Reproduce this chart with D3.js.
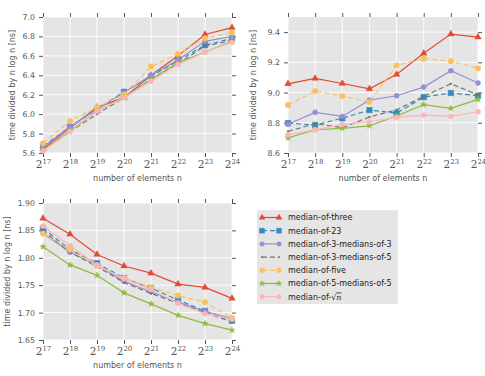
<!DOCTYPE html>
<html>
<head>
    <script type="text/javascript" src="https://d3js.org/d3.v7.min.js"></script>
    <style>
        body { margin: 0; background: #fff; }
        svg text { font-family: "DejaVu Sans", sans-serif; }
        .tick text { fill: #555; font-size: 7.8px; }
        .tick line { stroke: #555; }
        .xlab { font-family: "DejaVu Serif", serif !important; }
        .axlabel { fill: #555; font-size: 8px; }
        .legtext { fill: #222; font-size: 8px; }
    </style>
    <title>median pivot timings</title>
</head>
<body>
    <svg width="485" height="376"></svg>
    <script>
        // exponents of n (x axis: 2^17 ... 2^24)
        var exponents = [17, 18, 19, 20, 21, 22, 23, 24];

        var seriesNames = ["median-of-three", "median-of-23", "median-of-3-medians-of-3",
            "median-of-3-medians-of-5", "median-of-five", "median-of-5-medians-of-5", "median-of-sqrt"];

        // top left panel, one row per series (same order as seriesNames)
        var topLeftValues = [
            [5.64, 5.86, 6.07, 6.17, 6.40, 6.60, 6.82, 6.89],
            [5.67, 5.87, 6.05, 6.23, 6.39, 6.55, 6.71, 6.78],
            [5.66, 5.87, 6.05, 6.22, 6.40, 6.56, 6.75, 6.80],
            [5.63, 5.82, 6.00, 6.17, 6.36, 6.52, 6.70, 6.76],
            [5.70, 5.93, 6.07, 6.20, 6.49, 6.62, 6.78, 6.84],
            [5.63, 5.83, 6.03, 6.17, 6.36, 6.53, 6.64, 6.75],
            [5.62, 5.82, 6.03, 6.17, 6.34, 6.51, 6.64, 6.74]
        ];

        // top right panel
        var topRightValues = [
            [9.058, 9.094, 9.060, 9.025, 9.120, 9.260, 9.387, 9.367],
            [8.798, 8.785, 8.830, 8.884, 8.864, 8.970, 8.997, 8.979],
            [8.790, 8.869, 8.842, 8.950, 8.979, 9.036, 9.144, 9.063],
            [8.743, 8.794, 8.767, 8.838, 8.886, 8.975, 9.058, 8.985],
            [8.917, 9.010, 8.977, 8.937, 9.180, 9.224, 9.208, 9.160],
            [8.700, 8.754, 8.763, 8.780, 8.845, 8.920, 8.895, 8.955],
            [8.720, 8.754, 8.790, 8.807, 8.836, 8.850, 8.842, 8.873]
        ];

        // bottom left panel
        var bottomLeftValues = [
            [1.872, 1.843, 1.806, 1.785, 1.772, 1.752, 1.746, 1.726],
            [1.854, 1.815, 1.790, 1.763, 1.745, 1.723, 1.703, 1.685],
            [1.845, 1.810, 1.787, 1.757, 1.738, 1.719, 1.702, 1.689],
            [1.850, 1.810, 1.784, 1.755, 1.735, 1.717, 1.700, 1.683],
            [1.844, 1.815, 1.785, 1.763, 1.746, 1.731, 1.719, 1.690],
            [1.820, 1.787, 1.768, 1.736, 1.716, 1.695, 1.680, 1.668],
            [1.858, 1.822, 1.787, 1.762, 1.742, 1.717, 1.698, 1.688]
        ];

        var styles = [
            { color: "#E24A33", dash: null, symbol: d3.symbolTriangle, size: 18 },
            { color: "#348ABD", dash: "5,3", symbol: d3.symbolSquare, size: 30 },
            { color: "#988ED5", dash: null, symbol: d3.symbolCircle, size: 20 },
            { color: "#777777", dash: "5,3", symbol: d3.symbolCircle, size: 3 },
            { color: "#FBC15E", dash: "5,3", symbol: d3.symbolCircle, size: 24 },
            { color: "#8EBA42", dash: null, symbol: d3.symbolStar, size: 12 },
            { color: "#FFB5B8", dash: null, symbol: d3.symbolCircle, size: 20 }
        ];

        var svg = d3.select("svg");

        function drawPanel(left, top, w, h, values, yDomain, yTicks, yFmt, ylabX) {
            var g = svg.append("g").attr("transform", "translate(" + left + "," + top + ")");

            var x = d3.scaleLinear().domain([17, 24]).range([0, w]);
            var y = d3.scaleLinear().domain(yDomain).range([h, 0]);

            g.append("rect").attr("width", w).attr("height", h).attr("fill", "#E5E5E5");

            // grid
            g.selectAll(".gx").data(exponents).enter().append("line")
                .attr("x1", function (d) { return x(d); }).attr("x2", function (d) { return x(d); })
                .attr("y1", 0).attr("y2", h)
                .attr("stroke", "#fff").attr("stroke-width", 0.9);
            g.selectAll(".gy").data(yTicks).enter().append("line")
                .attr("y1", function (d) { return y(d); }).attr("y2", function (d) { return y(d); })
                .attr("x1", 0).attr("x2", w)
                .attr("stroke", "#fff").attr("stroke-width", 0.9);

            // axes (ticks outward on all four sides)
            var xb = g.append("g").attr("transform", "translate(0," + h + ")")
                .call(d3.axisBottom(x).tickValues(exponents).tickSize(4).tickSizeOuter(0).tickPadding(4).tickFormat(""));
            xb.selectAll(".tick text").remove();
            xb.selectAll(".tick").append("text")
                .attr("class", "xlab")
                .attr("y", 15)
                .attr("text-anchor", "middle")
                .attr("fill", "#555")
                .style("font-size", "10.5px")
                .each(function (d) {
                    var t = d3.select(this);
                    t.append("tspan").text("2");
                    t.append("tspan").attr("dy", -4.5).style("font-size", "7px").text(d);
                });
            g.append("g")
                .call(d3.axisTop(x).tickValues(exponents).tickSize(4).tickSizeOuter(0).tickFormat(""));
            g.append("g")
                .call(d3.axisLeft(y).tickValues(yTicks).tickSize(4).tickSizeOuter(0).tickPadding(4).tickFormat(d3.format(yFmt)));
            g.append("g").attr("transform", "translate(" + w + ",0)")
                .call(d3.axisRight(y).tickValues(yTicks).tickSize(4).tickSizeOuter(0).tickFormat(""));
            g.selectAll(".domain").remove();

            g.append("text").attr("class", "axlabel")
                .attr("x", w / 2).attr("y", h + 28)
                .attr("text-anchor", "middle")
                .text("number of elements n");
            g.append("text").attr("class", "axlabel")
                .attr("transform", "translate(" + ylabX + "," + (h / 2) + ") rotate(-90)")
                .attr("text-anchor", "middle")
                .attr("dy", "0.35em")
                .text("time divided by n log n [ns]");

            var line = d3.line()
                .x(function (d, i) { return x(exponents[i]); })
                .y(function (d) { return y(d); });

            values.forEach(function (vals, k) {
                var st = styles[k];
                g.append("path")
                    .datum(vals)
                    .attr("fill", "none")
                    .attr("stroke", st.color)
                    .attr("stroke-width", 1.2)
                    .attr("stroke-dasharray", st.dash)
                    .attr("d", line);
                g.selectAll(".m" + k)
                    .data(vals)
                    .enter()
                    .append("path")
                    .attr("transform", function (d, i) { return "translate(" + x(exponents[i]) + "," + y(d) + ")"; })
                    .attr("d", d3.symbol().type(st.symbol).size(st.size))
                    .attr("fill", st.color)
                    .attr("stroke", st.color)
                    .attr("stroke-width", 0.5);
            });
        }

        drawPanel(43, 17, 189, 136, topLeftValues, [5.6, 7.0],
            [5.6, 5.8, 6.0, 6.2, 6.4, 6.6, 6.8, 7.0], ".1f", -31);
        drawPanel(288, 17, 190, 136, topRightValues, [8.6, 9.5],
            [8.6, 8.8, 9.0, 9.2, 9.4], ".1f", -35);
        drawPanel(43, 203, 189, 137, bottomLeftValues, [1.65, 1.90],
            [1.65, 1.70, 1.75, 1.80, 1.85, 1.90], ".2f", -36);

        // legend
        var leg = svg.append("g").attr("transform", "translate(257,210)");
        leg.append("rect").attr("width", 141).attr("height", 94).attr("fill", "#E5E5E5");

        seriesNames.forEach(function (name, k) {
            var st = styles[k];
            var row = leg.append("g").attr("transform", "translate(0," + (7.5 + k * 13.2) + ")");
            row.append("line")
                .attr("x1", 5).attr("x2", 22)
                .attr("stroke", st.color).attr("stroke-width", 1.2)
                .attr("stroke-dasharray", st.dash);
            [5, 22].forEach(function (px) {
                row.append("path")
                    .attr("transform", "translate(" + px + ",0)")
                    .attr("d", d3.symbol().type(st.symbol).size(st.size * 0.8))
                    .attr("fill", st.color)
                    .attr("stroke", st.color)
                    .attr("stroke-width", 0.5);
            });
            var t = row.append("text").attr("class", "legtext").attr("x", 31).attr("dy", "0.35em");
            if (name === "median-of-sqrt") {
                t.append("tspan").text("median-of-");
                t.append("tspan").style("font-family", "DejaVu Serif, serif").text("\u221A");
                t.append("tspan")
                    .style("font-family", "DejaVu Serif, serif")
                    .style("font-style", "italic")
                    .style("text-decoration", "overline")
                    .text("n");
            } else {
                t.text(name);
            }
        });
    </script>
</body>
</html>
